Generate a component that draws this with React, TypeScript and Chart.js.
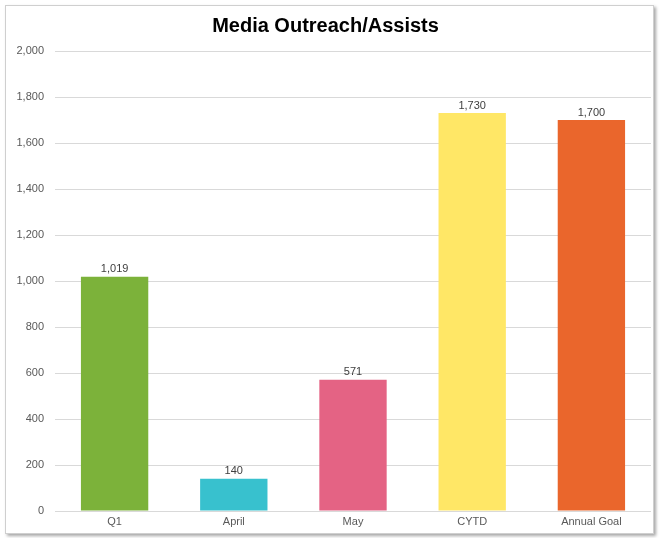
import React, { useEffect, useRef } from "react";
import { Chart, registerables } from "chart.js";

Chart.register(...registerables);

const categories = ["Q1", "April", "May", "CYTD", "Annual Goal"];
const values = [1019, 140, 571, 1730, 1700];
const barColors = ["#7CB23A", "#38C1CE", "#E46384", "#FFE766", "#EA662C"];
const chartTitle = "Media Outreach/Assists";

const FONT = "'Liberation Sans', Arial, sans-serif";

const valueLabels = {
  id: "valueLabels",
  afterDatasetsDraw(chart: any) {
    const ctx = chart.ctx;
    const meta = chart.getDatasetMeta(0);
    ctx.save();
    ctx.font = `11px ${FONT}`;
    ctx.fillStyle = "#404040";
    ctx.textAlign = "center";
    ctx.textBaseline = "bottom";
    meta.data.forEach((bar: any, i: number) => {
      const v = chart.data.datasets[0].data[i] as number;
      ctx.fillText(v.toLocaleString("en-US"), bar.x, bar.y - 2);
    });
    ctx.restore();
  },
};

export default function App() {
  const ref = useRef<HTMLCanvasElement | null>(null);
  useEffect(() => {
    if (!ref.current) return;
    const chart = new Chart(ref.current, {
      type: "bar",
      data: {
        labels: categories,
        datasets: [
          {
            data: values,
            backgroundColor: barColors,
            barPercentage: 0.565,
            categoryPercentage: 1,
          },
        ],
      },
      options: {
        animation: false,
        responsive: false,
        devicePixelRatio: 1,
        layout: { padding: { left: 0, right: 9, top: 0, bottom: 0 } },
        plugins: {
          legend: { display: false },
          tooltip: { enabled: false },
          title: {
            display: true,
            text: chartTitle,
            color: "#000000",
            font: { family: FONT, size: 20, weight: "bold" },
            padding: { top: 14, bottom: 13 },
          },
        },
        scales: {
          x: {
            grid: { display: false, drawTicks: false },
            border: { display: false },
            ticks: {
              color: "#595959",
              font: { family: FONT, size: 11 },
              padding: 4,
            },
            afterFit: (s: any) => {
              s.height = 27;
            },
          },
          y: {
            min: 0,
            max: 2000,
            ticks: {
              stepSize: 200,
              color: "#595959",
              font: { family: FONT, size: 11 },
              padding: 11,
              callback: (v: any) => Number(v).toLocaleString("en-US"),
            },
            grid: { color: "#D9D9D9", drawTicks: false, lineWidth: 1 },
            border: { display: false },
            afterFit: (s: any) => {
              s.width = 55;
            },
          },
        },
      },
      plugins: [valueLabels],
    });
    return () => chart.destroy();
  }, []);

  return (
    <div style={{ position: "fixed", left: 0, top: 0, width: 660, height: 538, background: "#fff" }}>
      <div
        style={{
          position: "absolute",
          left: 5,
          top: 5,
          width: 647,
          height: 527,
          border: "1px solid #CFCFCF",
          boxShadow: "2px 2px 3px rgba(0,0,0,0.35)",
          background: "#fff",
        }}
      />
      <canvas
        ref={ref}
        width={660}
        height={538}
        style={{ position: "absolute", left: 0, top: 0, width: 660, height: 538 }}
      />
    </div>
  );
}
